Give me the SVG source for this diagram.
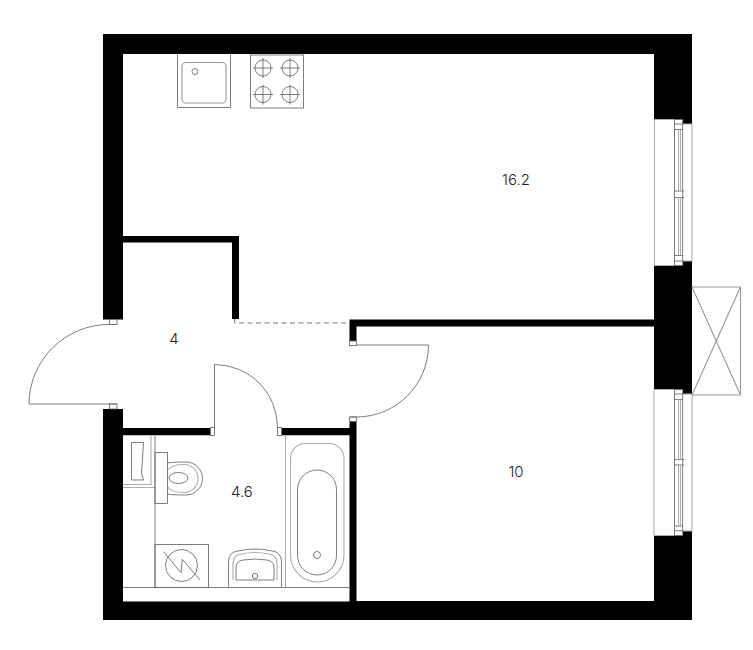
<svg xmlns="http://www.w3.org/2000/svg" width="753" height="650" viewBox="0 0 753 650">
<style>
.w{fill:#000;stroke:none}
.l{fill:none;stroke:#666;stroke-width:.85}
.g{fill:none;stroke:#adadad;stroke-width:1.1}
.d{fill:#fff;stroke:#666;stroke-width:.85}
.t{font-family:"Inter","Liberation Sans",sans-serif;font-size:15px;font-weight:300;fill:#222;text-anchor:middle}
</style>
<rect width="753" height="650" fill="#fff"/>
<g id="walls">
<path class="w" d="M103 34H692V124H683V119.500H654V54H123V319.500H103Z"/>
<path class="w" d="M654 265.500H683V261H692V394H683V389H654Z"/>
<path class="w" d="M683 531H692V620H103V409H123V428H210V435.300H123V601.500H349.500V421H356.500V601H654V535.700H683Z"/>
<path class="w" d="M281.500 428H350V435.300H281.500Z"/>
<path class="w" d="M123 236H239V319H232V242.500H123Z"/>
<path class="w" d="M349.500 319.500H654V326.500H356.500V341H349.500Z"/>
</g>
<g id="connectors">
<path d="M234.500 319V323H350" fill="none" stroke="#777" stroke-width="1" stroke-dasharray="5 3.500"/>
</g>
<g id="door-entry">
<rect class="d" x="109.500" y="319.500" width="7.500" height="5"/>
<rect class="d" x="109.500" y="404" width="7.500" height="5"/>
<path class="l" d="M117 324.500H109A80 80 0 0 0 29 404H117"/>
</g>
<g id="door-bath">
<rect class="d" x="210.500" y="427.500" width="4" height="8"/>
<rect class="d" x="277.500" y="427.500" width="4" height="8"/>
<path class="l" d="M214.500 427.500V364.500A63 63 0 0 1 277.500 427.500"/>
</g>
<g id="door-room">
<rect class="d" x="349.500" y="341" width="7" height="4.500"/>
<rect class="d" x="349.500" y="417" width="7" height="4.500"/>
<path class="l" d="M356.500 345H428.500A72 72 0 0 1 356.500 417H350"/>
</g>
<g id="window-1">
<path class="g" d="M683 119.500H654.500V265.500H683M683 124H692V261H683"/>
<rect class="l" x="674.500" y="119.500" width="8.200" height="146" fill="#fff"/>
<path class="l" d="M674.500 124H683M674.500 129.500H683M674.500 191H684M674.500 197.500H684M674.500 255.500H683M674.500 261H683"/>
<path class="g" d="M678.500 129.500V191M680.500 129.500V191M678.500 197.500V255.500M680.500 197.500V255.500"/>
</g>
<g id="window-2">
<path class="g" d="M683 389.500H654V535.500H683M683 394H692V531H683"/>
<rect class="l" x="674.500" y="389.500" width="8.200" height="146" fill="#fff"/>
<path class="l" d="M674.500 394H683M674.500 399.500H683M674.500 459.500H684M674.500 465H684M674.500 526H683M674.500 530.700H683"/>
<path class="g" d="M678.500 399.500V459.500M680.500 399.500V459.500M678.500 465V526M680.500 465V526"/>
</g>
<g id="balcony">
<path d="M692 287H740.500V395H692M692 287L740.500 395M740.500 287L692 395" fill="none" stroke="#999" stroke-width="1.100"/>
</g>
<g id="sink">
<path class="l" d="M177.500 54V107.500H230.500V54"/>
<rect x="182" y="62.500" width="44" height="40.500" rx="4" fill="none" stroke="#999" stroke-width="1.100"/>
<circle class="l" cx="195" cy="71.500" r="3"/>
</g>
<g id="hob">
<rect class="l" x="250.500" y="55" width="53" height="53"/>
<g class="l">
<circle cx="263" cy="68" r="8"/><path d="M253 68H273M263 58V78"/>
<circle cx="290" cy="68" r="8"/><path d="M280 68H300M290 58V78"/>
<circle cx="263" cy="94.500" r="8"/><path d="M253 94.500H273M263 84.500V104.500"/>
<circle cx="290" cy="94.500" r="8"/><path d="M280 94.500H300M290 84.500V104.500"/>
</g>
</g>
<g id="bathroom-lines">
<path class="l" d="M155 435.500V587.500"/>
<path class="g" d="M151 435.500V484.500H123M123 487.500H155"/>
<path class="l" d="M123 587.500H349.500"/>
<path class="g" d="M285.500 435.500V587"/>
</g>
<g id="shelf">
<path class="l" d="M131.500 442.500H143.500L141.500 474L143.500 480H131.500Z"/>
</g>
<g id="toilet">
<rect class="l" x="155" y="452.500" width="12.500" height="51"/>
<path class="l" d="M167.500 463Q172 462 186 462A16.500 16.500 0 0 1 186 495Q172 495 167.500 494"/>
<path class="g" d="M167.500 470Q172 464.500 184 464.500A14 14 0 0 1 184 492.500Q172 492.500 167.500 487"/>
<ellipse class="l" cx="178.500" cy="478" rx="9.500" ry="5.500"/>
</g>
<g id="washer">
<rect class="l" x="155" y="544.500" width="53.500" height="43"/>
<circle class="l" cx="181.500" cy="565.500" r="16"/>
<path class="l" d="M163.500 551.700L181 572.700L182.300 559.300L200 580"/>
</g>
<g id="basin">
<path class="l" d="M228.500 587V562Q228.500 552 238 551Q255 547 272 551Q281.500 552 281.500 562V587"/>
<path class="g" d="M233 580V564Q233 555 241 554Q255 551 269 554Q277 555 277 564V580"/>
<path class="l" d="M236 580V568Q236 561 243 560Q255 558 267 560Q274 561 274 568V580Z"/>
<circle class="l" cx="255" cy="576" r="2.700"/>
</g>
<g id="bath">
<path class="g" d="M290.500 458A15 15 0 0 1 305.500 443.500H329A15 15 0 0 1 344 458V555A27 27 0 0 1 317 582A27 27 0 0 1 290.500 555Z"/>
<rect class="l" x="297.500" y="470" width="39" height="105" rx="19.500"/>
<circle class="l" cx="317" cy="555" r="3.500"/>
</g>
<g id="labels" opacity="0.99">
<text class="t" x="516" y="184.500">16.2</text>
<text class="t" x="174" y="344">4</text>
<text class="t" x="242" y="496.500">4.6</text>
<text class="t" x="516" y="477">10</text>
</g>
</svg>
